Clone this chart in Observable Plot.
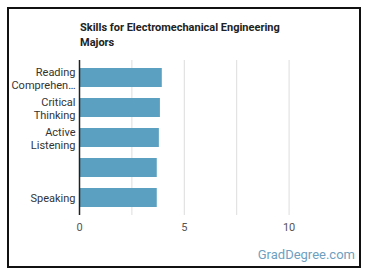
<!DOCTYPE html>
<html>
<head>
<meta charset="utf-8">
<script src="https://cdn.jsdelivr.net/npm/d3@7"></script>
<script src="https://cdn.jsdelivr.net/npm/@observablehq/plot@0.6"></script>
<style>
  html, body { margin: 0; padding: 0; background: #fff; }
  #wrap { position: relative; width: 370px; height: 278px; overflow: hidden; font-family: Roboto, "Noto Sans", sans-serif; }
  #frame { position: absolute; left: 7px; top: 7px; width: 350px; height: 257px; border: 2px solid #111; box-sizing: content-box; }
  #title { position: absolute; left: 80px; top: 20px; font-size: 11px; font-weight: bold; color: #222; line-height: 15px; }
  #chart { position: absolute; left: 0; top: 0; }
  #credit { position: absolute; right: 15px; top: 247px; font-size: 13px; color: #6f9fc0; }
</style>
</head>
<body>
<div id="wrap">
  <div id="frame"></div>
  <div id="chart"></div>
  <div id="title">Skills for Electromechanical Engineering<br>Majors</div>
  <div id="credit">GradDegree.com</div>
</div>
<script>
const categories = ["Reading Comprehension", "Critical Thinking", "Active Listening", "Writing", "Speaking"];
const tickLabels = ["Reading\nComprehen…", "Critical\nThinking", "Active\nListening", "", "Speaking"];
const values = [3.95, 3.86, 3.81, 3.71, 3.71];
const xTicks = [0, 5, 10];
const gridTicks = [2.5, 5, 7.5, 10];

const data = categories.map((c, i) => ({category: c, value: values[i]}));
const labelOf = new Map(categories.map((c, i) => [c, tickLabels[i]]));

const chart = Plot.plot({
  width: 370,
  height: 278,
  marginLeft: 79,
  marginRight: 29,
  marginTop: 60,
  marginBottom: 63,
  style: {fontFamily: "Roboto, 'Noto Sans', sans-serif", fontSize: "11px", background: "transparent"},
  x: {domain: [0, 12.5], axis: null, label: null},
  y: {domain: categories, paddingInner: 0.36, paddingOuter: 0.2, axis: null, label: null},
  marks: [
    Plot.ruleX(gridTicks, {stroke: "#ddd", strokeWidth: 1}),
    Plot.barX(data, {y: "category", x: "value", fill: "#5ba0c0"}),
    Plot.ruleX([0], {stroke: "#222", strokeWidth: 1.5}),
    Plot.axisY({label: null, tickSize: 0, tickPadding: 4, tickFormat: d => labelOf.get(d), fill: "#333", fontSize: 11, lineHeight: 1.25}),
    Plot.axisX(xTicks, {label: null, tickSize: 0, tickPadding: 8, fill: "#555", fontSize: 11})
  ]
});
document.getElementById("chart").appendChild(chart);
</script>
</body>
</html>
